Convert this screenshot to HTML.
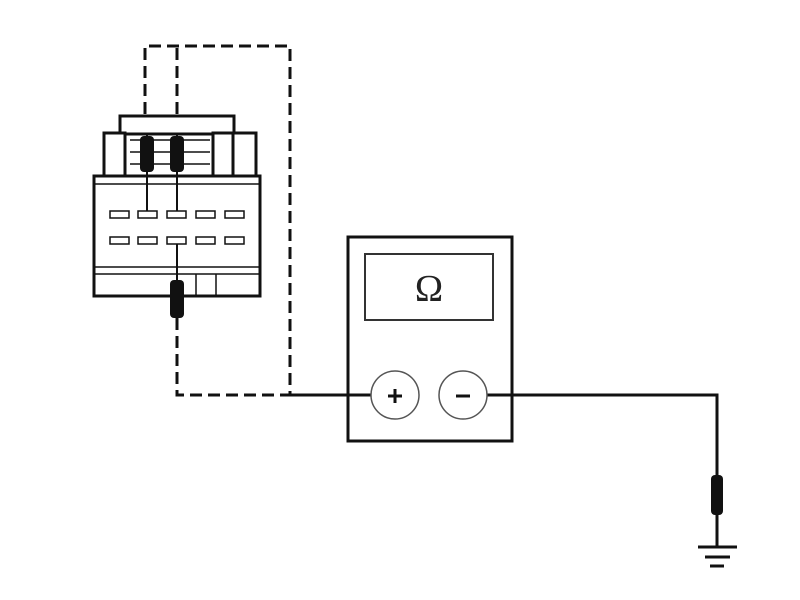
<!DOCTYPE html>
<html><head><style>html,body{margin:0;padding:0;background:#fff}svg{display:block}</style></head>
<body>
<svg width="800" height="600" viewBox="0 0 800 600" xmlns="http://www.w3.org/2000/svg">
<g fill="none" stroke="#111" stroke-width="3" stroke-dasharray="12,6">
<path d="M145 132 V46 H290 V395"/>
<path d="M177 132 V46"/>
<path d="M177 318 V395 H290"/>
</g>
<g fill="#fff" stroke="#111" stroke-width="3">
<rect x="120" y="116" width="114" height="18"/>
<rect x="104" y="133" width="21" height="43"/>
<rect x="213" y="133" width="20" height="43"/>
<rect x="233" y="133" width="23" height="43"/>
<rect x="94" y="176" width="166" height="120"/>
</g>
<g stroke="#111" stroke-width="1.5" fill="none">
<line x1="94" y1="184" x2="260" y2="184"/>
<line x1="94" y1="267" x2="260" y2="267"/>
<line x1="94" y1="274" x2="260" y2="274"/>
<line x1="196" y1="274" x2="196" y2="296"/>
<line x1="216" y1="274" x2="216" y2="296"/>
<line x1="130" y1="140" x2="210" y2="140"/>
<line x1="130" y1="152" x2="210" y2="152"/>
<line x1="130" y1="164" x2="210" y2="164"/>
<rect x="110" y="211" width="19" height="7"/>
<rect x="138" y="211" width="19" height="7"/>
<rect x="167" y="211" width="19" height="7"/>
<rect x="196" y="211" width="19" height="7"/>
<rect x="225" y="211" width="19" height="7"/>
<rect x="110" y="237" width="19" height="7"/>
<rect x="138" y="237" width="19" height="7"/>
<rect x="167" y="237" width="19" height="7"/>
<rect x="196" y="237" width="19" height="7"/>
<rect x="225" y="237" width="19" height="7"/>
</g>
<g stroke="#111" stroke-width="2">
<line x1="147" y1="134" x2="147" y2="211"/>
<line x1="177" y1="134" x2="177" y2="211"/>
<line x1="177" y1="244" x2="177" y2="280"/>
</g>
<g fill="#111">
<rect x="140" y="136" width="14" height="36" rx="4"/>
<rect x="170" y="136" width="14" height="36" rx="4"/>
<rect x="170" y="280" width="14" height="38" rx="4"/>
<rect x="711" y="475" width="12" height="40" rx="4"/>
</g>
<rect x="348" y="237" width="164" height="204" fill="#fff" stroke="#111" stroke-width="3"/>
<rect x="365" y="254" width="128" height="66" fill="#fff" stroke="#333" stroke-width="2"/>
<text x="429" y="301" text-anchor="middle" font-family="Liberation Serif, serif" font-size="38" fill="#222">Ω</text>
<g stroke="#111" stroke-width="3" fill="none">
<path d="M290 395 H371"/>
<path d="M487 395 H717 V475"/>
<path d="M717 515 V547"/>
<line x1="698" y1="547" x2="737" y2="547"/>
<line x1="705" y1="557" x2="730" y2="557"/>
<line x1="710" y1="566" x2="724" y2="566"/>
</g>
<circle cx="395" cy="395" r="24" fill="#fff" stroke="#555" stroke-width="1.5"/>
<circle cx="463" cy="395" r="24" fill="#fff" stroke="#555" stroke-width="1.5"/>
<g stroke="#111" stroke-width="3">
<line x1="388" y1="396" x2="402" y2="396"/>
<line x1="395" y1="389" x2="395" y2="403"/>
<line x1="456" y1="396" x2="470" y2="396"/>
</g>
</svg>
</body></html>
